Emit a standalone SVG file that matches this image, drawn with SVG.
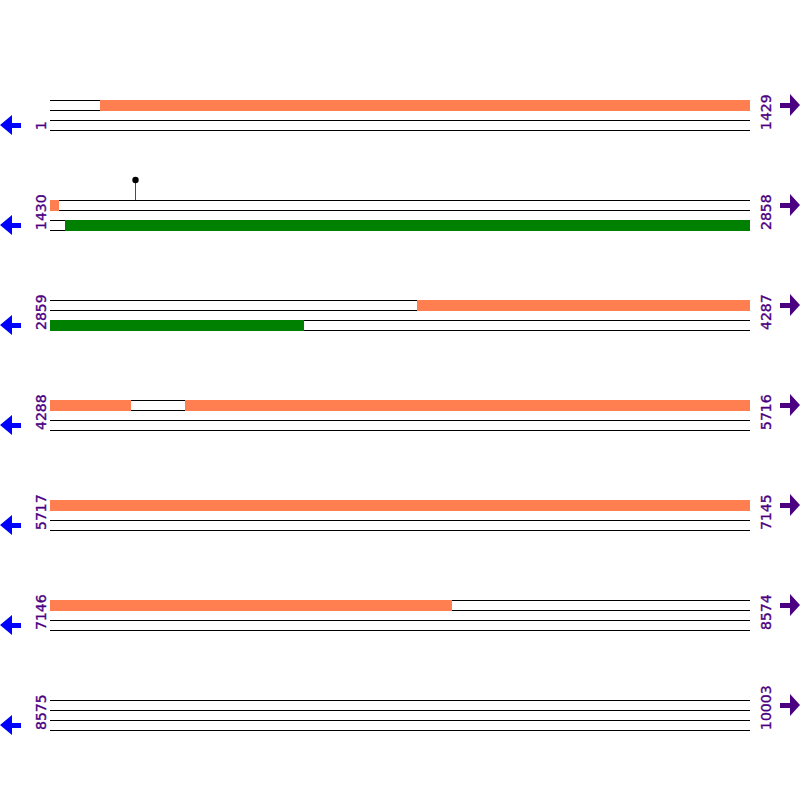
<svg xmlns="http://www.w3.org/2000/svg" width="800" height="800" viewBox="0 0 800 800">
<style>
.ln{stroke:#000;stroke-width:1;fill:none}
.or{fill:#FF7F50}
.gr{fill:#008000}
.lbl{font-family:"DejaVu Sans",sans-serif;font-size:14px;fill:#4B0082;stroke:#4B0082;stroke-width:0.35}
.la{fill:#0000FF}
.ra{fill:#4B0082}
</style>
<defs>
<g id="rowlines" class="ln">
<line x1="50" y1="0.5" x2="750" y2="0.5"/>
<line x1="50" y1="10.5" x2="750" y2="10.5"/>
<line x1="50" y1="20.5" x2="750" y2="20.5"/>
<line x1="50" y1="30.5" x2="750" y2="30.5"/>
</g>
<polygon id="larrow" points="0,25 12,15 12,23 21,23 21,28 12,28 12,35"/>
<polygon id="rarrow" points="800,5 790,-6 790,3 780,3 780,8 790,8 790,16"/>
</defs>
<rect width="800" height="800" fill="#fff"/>

<g id="row1">
<use href="#rowlines" y="100"/>
<rect class="or" x="100" y="100" width="650" height="11"/>
<use href="#larrow" class="la" y="100"/>
<use href="#rarrow" class="ra" y="100"/>
<text class="lbl" transform="translate(46,130) rotate(-90)">1</text>
<text class="lbl" transform="translate(771,130) rotate(-90)">1429</text>
</g>

<g id="row2">
<use href="#rowlines" y="200"/>
<rect class="or" x="50" y="200" width="9" height="11"/>
<rect class="gr" x="65" y="220" width="685" height="11"/>
<use href="#larrow" class="la" y="200"/>
<use href="#rarrow" class="ra" y="200"/>
<text class="lbl" transform="translate(46,230) rotate(-90)">1430</text>
<text class="lbl" transform="translate(771,230) rotate(-90)">2858</text>
</g>

<g id="lollipop">
<line x1="135.5" y1="180" x2="135.5" y2="200" stroke="#FF0000" stroke-width="1"/>
<circle cx="135.5" cy="180" r="3.2" fill="#000"/>
</g>

<g id="row3">
<use href="#rowlines" y="300"/>
<rect class="or" x="417" y="300" width="333" height="11"/>
<rect class="gr" x="50" y="320" width="254" height="11"/>
<use href="#larrow" class="la" y="300"/>
<use href="#rarrow" class="ra" y="300"/>
<text class="lbl" transform="translate(46,330) rotate(-90)">2859</text>
<text class="lbl" transform="translate(771,330) rotate(-90)">4287</text>
</g>

<g id="row4">
<use href="#rowlines" y="400"/>
<rect class="or" x="50" y="400" width="81" height="11"/>
<rect class="or" x="185" y="400" width="565" height="11"/>
<use href="#larrow" class="la" y="400"/>
<use href="#rarrow" class="ra" y="400"/>
<text class="lbl" transform="translate(46,430) rotate(-90)">4288</text>
<text class="lbl" transform="translate(771,430) rotate(-90)">5716</text>
</g>

<g id="row5">
<use href="#rowlines" y="500"/>
<rect class="or" x="50" y="500" width="700" height="11"/>
<use href="#larrow" class="la" y="500"/>
<use href="#rarrow" class="ra" y="500"/>
<text class="lbl" transform="translate(46,530) rotate(-90)">5717</text>
<text class="lbl" transform="translate(771,530) rotate(-90)">7145</text>
</g>

<g id="row6">
<use href="#rowlines" y="600"/>
<rect class="or" x="50" y="600" width="402" height="11"/>
<use href="#larrow" class="la" y="600"/>
<use href="#rarrow" class="ra" y="600"/>
<text class="lbl" transform="translate(46,630) rotate(-90)">7146</text>
<text class="lbl" transform="translate(771,630) rotate(-90)">8574</text>
</g>

<g id="row7">
<use href="#rowlines" y="700"/>
<use href="#larrow" class="la" y="700"/>
<use href="#rarrow" class="ra" y="700"/>
<text class="lbl" transform="translate(46,730) rotate(-90)">8575</text>
<text class="lbl" transform="translate(771,730) rotate(-90)">10003</text>
</g>
</svg>
